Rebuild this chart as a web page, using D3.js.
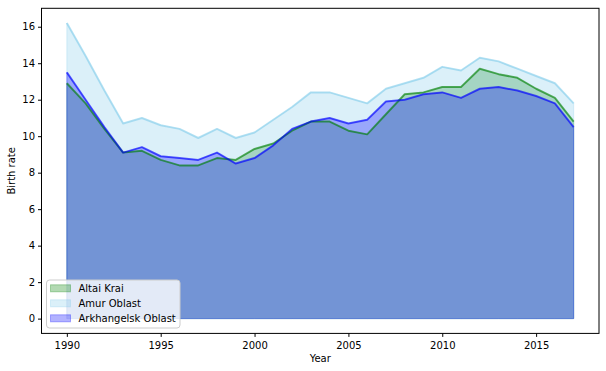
<!DOCTYPE html>
<html>
<head>
<meta charset="utf-8">
<script src="https://cdn.jsdelivr.net/npm/d3@7"></script>
<style>
  body { margin: 0; background: #fff; }
  text { font-family: "DejaVu Sans", sans-serif; }
</style>
</head>
<body>
<div id="chart"></div>
<script>
var years = d3.range(1990, 2018)
var altai = [12.9, 11.8, 10.4, 9.1, 9.2, 8.7, 8.4, 8.4, 8.8, 8.7, 9.3, 9.6, 10.3, 10.8, 10.8, 10.3, 10.1, 11.2, 12.3, 12.4, 12.7, 12.7, 13.7, 13.4, 13.2, 12.6, 12.1, 10.8]
var amur = [16.2, 14.4, 12.5, 10.7, 11.0, 10.6, 10.4, 9.9, 10.4, 9.9, 10.2, 10.9, 11.6, 12.4, 12.4, 12.1, 11.8, 12.6, 12.9, 13.2, 13.8, 13.6, 14.3, 14.1, 13.7, 13.3, 12.9, 11.8]
var arkh = [13.5, 12.0, 10.5, 9.1, 9.4, 8.9, 8.8, 8.7, 9.1, 8.5, 8.8, 9.5, 10.4, 10.8, 11.0, 10.7, 10.9, 11.9, 12.0, 12.3, 12.4, 12.1, 12.6, 12.7, 12.5, 12.2, 11.8, 10.5]
var seriesNames = ['Altai Krai', 'Amur Oblast', 'Arkhangelsk Oblast']
var seriesColors = ['green', 'skyblue', 'blue']
var xTicks = [1990, 1995, 2000, 2005, 2010, 2015]
var yTicks = [0, 2, 4, 6, 8, 10, 12, 14, 16]

var width = 606, height = 371
var margin = {left: 41.5, right: 7, top: 8.3, bottom: 37.6}

var allSeries = [altai, amur, arkh]
var ymax = d3.max(allSeries, function (s) { return d3.max(s) })
var xpad = (years[years.length - 1] - years[0]) * 0.05
var ypad = ymax * 0.05

var x = d3.scaleLinear()
    .domain([years[0] - xpad, years[years.length - 1] + xpad])
    .range([margin.left, width - margin.right])
var y = d3.scaleLinear()
    .domain([-ypad, ymax + ypad])
    .range([height - margin.bottom, margin.top])

var svg = d3.select('#chart').append('svg')
    .attr('width', width)
    .attr('height', height)

var area = d3.area()
    .x(function (d, i) { return x(years[i]) })
    .y0(y(0))
    .y1(function (d) { return y(d) })
var line = d3.line()
    .x(function (d, i) { return x(years[i]) })
    .y(function (d) { return y(d) })

// fills below, lines on top (like matplotlib zorder)
var fills = svg.append('g')
var lines = svg.append('g')
allSeries.forEach(function (s, k) {
    fills.append('path')
        .attr('d', area(s) + 'Z')
        .style('fill', seriesColors[k])
        .style('fill-opacity', 0.3)
        .style('stroke', seriesColors[k])
        .style('stroke-opacity', 0.3)
        .style('stroke-width', 1)
    lines.append('path')
        .attr('d', line(s))
        .style('fill', 'none')
        .style('stroke', seriesColors[k])
        .style('stroke-opacity', 0.6)
        .style('stroke-width', 2)
        .style('stroke-linejoin', 'round')
})

// axes
var xAxis = svg.append('g')
    .attr('transform', 'translate(0,' + (height - margin.bottom) + ')')
    .call(d3.axisBottom(x).tickValues(xTicks).tickFormat(d3.format('d')).tickSize(3.5).tickSizeOuter(0))
var yAxis = svg.append('g')
    .attr('transform', 'translate(' + margin.left + ',0)')
    .call(d3.axisLeft(y).tickValues(yTicks).tickSize(3.5).tickSizeOuter(0))
;[xAxis, yAxis].forEach(function (a) {
    a.select('.domain').remove()
    a.selectAll('text').style('font-size', '10px').style('fill', '#000')
    a.selectAll('line').style('stroke', '#000')
})
xAxis.selectAll('text').attr('dy', '0.95em')

// spines
svg.append('rect')
    .attr('x', margin.left)
    .attr('y', margin.top)
    .attr('width', width - margin.right - margin.left)
    .attr('height', height - margin.bottom - margin.top)
    .style('fill', 'none')
    .style('stroke', '#000')
    .style('stroke-width', 1)

svg.append('text')
    .attr('x', (margin.left + width - margin.right) / 2)
    .attr('y', 362)
    .attr('text-anchor', 'middle')
    .style('font-size', '10px')
    .text('Year')
svg.append('text')
    .attr('transform', 'translate(15,' + ((margin.top + height - margin.bottom) / 2) + ') rotate(-90)')
    .attr('text-anchor', 'middle')
    .style('font-size', '10px')
    .text('Birth rate')

// legend
var lg = svg.append('g').attr('transform', 'translate(46.5,280)')
lg.append('rect')
    .attr('width', 133.5)
    .attr('height', 48)
    .attr('rx', 3)
    .style('fill', 'white')
    .style('fill-opacity', 0.8)
    .style('stroke', '#ccc')
    .style('stroke-width', 1)
seriesNames.forEach(function (name, k) {
    var row = lg.append('g').attr('transform', 'translate(0,' + (8.3 + k * 15) + ')')
    row.append('rect')
        .attr('x', 4)
        .attr('y', -3.5)
        .attr('width', 20)
        .attr('height', 7)
        .style('fill', seriesColors[k])
        .style('fill-opacity', 0.3)
        .style('stroke', seriesColors[k])
        .style('stroke-opacity', 0.3)
    row.append('text')
        .attr('x', 32)
        .attr('dy', '0.35em')
        .style('font-size', '10px')
        .text(name)
})
</script>
</body>
</html>
